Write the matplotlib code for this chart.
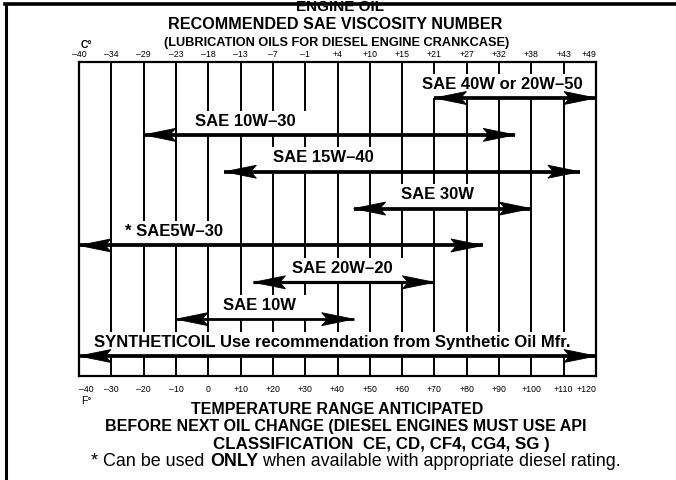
import matplotlib
matplotlib.use("Agg")
import matplotlib.pyplot as plt
from matplotlib.patches import Polygon, Rectangle
from matplotlib.lines import Line2D

plt.rcParams['font.family'] = ['Liberation Sans', 'DejaVu Sans']

# ---- data ----
oil_labels = ["SAE 40W or 20W–50", "SAE 10W–30", "SAE 15W–40", "SAE 30W",
              "* SAE5W–30", "SAE 20W–20", "SAE 10W",
              "SYNTHETICOIL Use recommendation from Synthetic Oil Mfr."]
low_f = [70, -20, 5, 45, -40, 14, -10, -40]
high_f = [120, 95, 115, 100, 85, 70, 45, 120]

f_ticks = [-40, -30, -20, -10, 0, 10, 20, 30, 40, 50, 60, 70, 80, 90, 100, 110, 120]
f_tick_labels = ["–40", "–30", "–20", "–10", "0", "+10", "+20", "+30", "+40", "+50",
                 "+60", "+70", "+80", "+90", "+100", "+110", "+120"]
c_tick_labels = ["–40", "–34", "–29", "–23", "–18", "–13", "–7", "–1", "+4", "+10",
                 "+15", "+21", "+27", "+32", "+38", "+43", "+49"]

# ---- layout / style ----
label_x = [91, 11.5, 35.5, 71, -10.5, 41.5, 16, 38.5]
shaft_lw = [2.7, 2.7, 2.7, 2.7, 2.7, 2.3, 2.0, 2.7]   # points
HEAD_LEN, HEAD_HALF, HEAD_NOTCH = 32.0, 6.5, 0.82      # pixels / fraction

W, H = 676, 481
fig = plt.figure(figsize=(W / 100, H / 100), dpi=100)
ax = fig.add_axes([79 / W, 1 - 377 / H, (596 - 79) / W, (377 - 63) / H])
ax.set_xlim(-40, 120)
ax.set_ylim(7.542, -0.977)

for s in ax.spines.values():
    s.set_linewidth(1.6)
    s.set_zorder(6)

for f in f_ticks:
    ax.axvline(f, color='black', lw=1.4, zorder=1)

tick_font = ['Liberation Sans Narrow', 'Liberation Sans', 'DejaVu Sans']
ax.set_yticks([])
ax.set_xticks(f_ticks)
ax.set_xticklabels(f_tick_labels, fontsize=6.3, family=tick_font)
ax.tick_params(axis='x', length=0, pad=6)
bl = ax.get_xticklabels()
bl[0].set_ha('left')
bl[-1].set_ha('right')

axt = ax.twiny()
axt.set_xlim(ax.get_xlim())
axt.set_xticks(f_ticks)
axt.set_xticklabels(c_tick_labels, fontsize=6.3, family=tick_font)
axt.tick_params(axis='x', length=0, pad=3)
tl = axt.get_xticklabels()
tl[-1].set_ha('right')
for s in axt.spines.values():
    s.set_visible(False)

renderer = fig.canvas.get_renderer()
to_disp = ax.transData
inv = ax.transData.inverted()


def head(tip_xy, direction):
    """Barbed arrow head polygon (display coords -> data coords)."""
    tx, ty = tip_xy
    d = direction  # +1 head points right, -1 points left
    pts = [(tx, ty),
           (tx - d * HEAD_LEN, ty + HEAD_HALF),
           (tx - d * HEAD_LEN * HEAD_NOTCH, ty),
           (tx - d * HEAD_LEN, ty - HEAD_HALF)]
    return Polygon(inv.transform(pts), closed=True, facecolor='black',
                   edgecolor='black', lw=0.6, joinstyle='miter', zorder=5)


for i, (lab, lo, hi) in enumerate(zip(oil_labels, low_f, high_f)):
    lw = shaft_lw[i]
    ax.plot([lo, hi], [i, i], color='black', lw=lw, solid_capstyle='butt', zorder=5)
    left_tip = to_disp.transform((lo, i))
    right_tip = to_disp.transform((hi, i))
    ax.add_patch(head(left_tip, -1))
    ax.add_patch(head(right_tip, +1))

    t = ax.text(label_x[i], i - 0.40, lab, ha='center', va='center', fontsize=12,
                fontweight='bold', zorder=4)
    bb = t.get_window_extent(renderer)
    (x0, ytop) = inv.transform((bb.x0 - 10, bb.y1 + 2))
    (x1, _) = inv.transform((bb.x1 + 10, bb.y0))
    ax.add_patch(Rectangle((x0, ytop), x1 - x0, i - ytop, facecolor='white',
                           edgecolor='none', zorder=2))

# ---- titles and notes ----
def ft(x, y, s, **kw):
    return fig.text(x / W, 1 - y / H, s, **kw)

ft(340, 11, "ENGINE OIL", ha='center', va='baseline', fontsize=11, fontweight='bold')
ft(335, 29, "RECOMMENDED SAE VISCOSITY NUMBER", ha='center', va='baseline',
   fontsize=11.6, fontweight='bold')
ft(337, 46, "(LUBRICATION OILS FOR DIESEL ENGINE CRANKCASE)", ha='center',
   va='baseline', fontsize=9.2, fontweight='bold')
ft(86, 45, "C°", ha='center', va='center', fontsize=7.5, fontweight='bold')
ft(86, 401, "F°", ha='center', va='center', fontsize=7.5)
ft(337, 410, "TEMPERATURE RANGE ANTICIPATED", ha='center', va='center',
   fontsize=11.5, fontweight='bold')
ft(346, 426, "BEFORE NEXT OIL CHANGE (DIESEL ENGINES MUST USE API", ha='center',
   va='center', fontsize=11.5, fontweight='bold')
ft(381, 444, "CLASSIFICATION  CE, CD, CF4, CG4, SG )", ha='center', va='center',
   fontsize=12.2, fontweight='bold')

# mixed-weight footnote
parts = [("* Can be used ", 'normal'), ("ONLY", 'bold'),
         (" when available with appropriate diesel rating.", 'normal')]
objs = []
for s, w in parts:
    tt = fig.text(0, 1 - 462 / H, s, ha='left', va='center', fontsize=12.9, fontweight=w)
    objs.append(tt)
widths = [tt.get_window_extent(renderer).width for tt in objs]
x = 356 - sum(widths) / 2
for tt, w in zip(objs, widths):
    tt.set_x(x / W)
    x += w

# page frame (left and top)
fig.add_artist(Line2D([6 / W, 6 / W], [0, 1 - 5 / H], transform=fig.transFigure,
                      color='black', lw=2.2))
fig.add_artist(Line2D([5 / W, 1], [1 - 5 / H, 1 - 5 / H], transform=fig.transFigure,
                      color='black', lw=2.6))

fig.savefig("out.png", dpi=100)
